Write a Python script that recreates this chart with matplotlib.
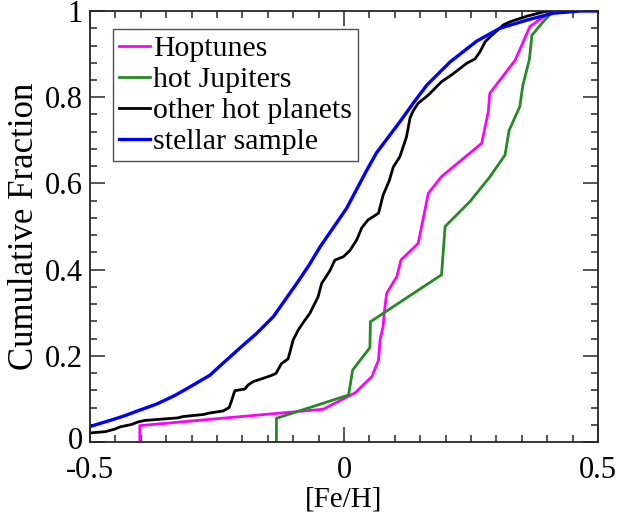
import matplotlib
matplotlib.use("Agg")
import matplotlib.pyplot as plt
import matplotlib.transforms as mtransforms
from matplotlib.ticker import MultipleLocator

plt.rcParams['font.family'] = ['Liberation Serif', 'DejaVu Serif']
plt.rcParams['axes.unicode_minus'] = False

# --- values ---
hop_feh = [-0.402, -0.402, -0.041, 0.022, 0.055, 0.068, 0.071, 0.077, 0.079, 0.084,
           0.104, 0.112, 0.146, 0.166, 0.192, 0.271, 0.284, 0.287, 0.337, 0.366, 0.409]
hop_cdf = [0.0, 0.038, 0.076, 0.114, 0.152, 0.190, 0.237, 0.268, 0.299, 0.345,
           0.384, 0.422, 0.461, 0.577, 0.616, 0.693, 0.766, 0.809, 0.886, 0.964, 1.0]

hj_feh = [-0.133, -0.133, 0.009, 0.017, 0.051, 0.052, 0.192, 0.199, 0.248, 0.287,
          0.317, 0.325, 0.346, 0.352, 0.365, 0.370, 0.392, 0.412]
hj_cdf = [0.0, 0.055, 0.109, 0.167, 0.219, 0.279, 0.388, 0.500, 0.558, 0.615,
          0.666, 0.723, 0.778, 0.827, 0.888, 0.944, 0.975, 1.0]

other_feh = [-0.500, -0.470, -0.451, -0.441, -0.417, -0.407, -0.392, -0.327, -0.317, -0.276,
             -0.266, -0.238, -0.226, -0.221, -0.215, -0.195, -0.189, -0.179, -0.146, -0.134,
             -0.123, -0.110, -0.100, -0.090, -0.081, -0.067, -0.051, -0.044, -0.028, -0.018,
             -0.001, 0.012, 0.025, 0.035, 0.047, 0.068, 0.077, 0.089, 0.097, 0.110,
             0.123, 0.130, 0.136, 0.146, 0.166, 0.192, 0.212, 0.242, 0.258, 0.268,
             0.278, 0.294, 0.314, 0.327, 0.360, 0.399, 0.406]
other_cdf = [0.021, 0.024, 0.030, 0.035, 0.041, 0.046, 0.050, 0.056, 0.059, 0.064,
             0.067, 0.072, 0.080, 0.097, 0.119, 0.123, 0.132, 0.140, 0.153, 0.159,
             0.182, 0.193, 0.237, 0.260, 0.276, 0.299, 0.337, 0.368, 0.397, 0.422,
             0.430, 0.445, 0.469, 0.497, 0.515, 0.531, 0.573, 0.606, 0.638, 0.662,
             0.708, 0.752, 0.768, 0.786, 0.805, 0.836, 0.852, 0.879, 0.889, 0.906,
             0.929, 0.947, 0.968, 0.975, 0.988, 1.0, 1.0]

star_feh = [-0.500, -0.461, -0.434, -0.402, -0.369, -0.333, -0.303, -0.264, -0.238, -0.205,
            -0.172, -0.139, -0.093, -0.069, -0.047, 0.005, 0.045, 0.064, 0.110, 0.138,
            0.163, 0.209, 0.261, 0.307, 0.360, 0.412, 0.465, 0.500]
star_cdf = [0.036, 0.050, 0.060, 0.074, 0.088, 0.108, 0.128, 0.155, 0.183, 0.218,
            0.252, 0.291, 0.368, 0.410, 0.453, 0.542, 0.631, 0.671, 0.743, 0.789,
            0.828, 0.882, 0.930, 0.960, 0.979, 0.995, 1.0, 1.0]

fig = plt.figure(figsize=(6.29, 5.2), dpi=100)
ax = fig.add_axes([0.1431, 0.15, 0.8076, 0.8288])

ax.plot(hop_feh, hop_cdf, color='#ff00ff', lw=2.0, label='Hoptunes')
ax.plot(hj_feh, hj_cdf, color='#228b22', lw=2.0, label='hot Jupiters')
ax.plot(other_feh, other_cdf, color='black', lw=2.0, label='other hot planets')
ax.plot(star_feh, star_cdf, color='#0000ff', lw=2.4, label='stellar sample')

ax.set_xlim(-0.5, 0.5)
ax.set_ylim(0, 1)
ax.xaxis.set_minor_locator(MultipleLocator(0.05))
ax.yaxis.set_minor_locator(MultipleLocator(0.04))
ax.set_xticks([-0.5, 0, 0.5])
ax.set_xticklabels(['-0.5', '0', '0.5'])
ax.set_yticks([0, 0.2, 0.4, 0.6, 0.8, 1])
ax.set_yticklabels(['0', '0.2', '0.4', '0.6', '0.8', '1'])

ax.tick_params(which='both', direction='in', top=True, right=True,
               width=1.1, color='#262626', labelsize=22)
ax.tick_params(axis='x', which='major', length=10.5, pad=10)
ax.tick_params(axis='y', which='major', length=10.5, pad=5)
ax.tick_params(which='minor', length=5)
for s in ax.spines.values():
    s.set_linewidth(1.3)
    s.set_color('#262626')

# nudge the y "0" label up a little so it clears the "-0.5" below it
zero_lbl = ax.get_yticklabels()[0]
zero_lbl.set_transform(zero_lbl.get_transform() +
                       mtransforms.ScaledTranslation(0, 3 / 72, fig.dpi_scale_trans))

ax.set_xlabel('[Fe/H]', fontsize=21, labelpad=1)
ax.set_ylabel('Cumulative Fraction', fontsize=25, labelpad=3)

leg = ax.legend(loc='upper left', bbox_to_anchor=(0.045, 0.958), borderaxespad=0,
                fontsize=21.5, frameon=True, fancybox=False, edgecolor='#262626',
                handlelength=1.05, handletextpad=0.1, labelspacing=0.14, borderpad=0.2)
leg.get_frame().set_linewidth(1.0)

fig.savefig('out.png', dpi=100)
